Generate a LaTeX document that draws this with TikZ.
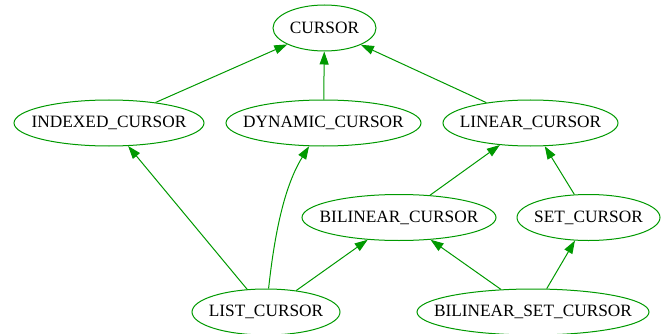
\documentclass[tikz,border=0pt]{standalone}
\usepackage{fontspec}
\setmainfont{Liberation Serif}
\usetikzlibrary{shapes.geometric,arrows.meta}
\definecolor{gvgreen}{RGB}{0,153,0}
\begin{document}
\begin{tikzpicture}[x=1pt,y=-1pt,
  cls/.style={ellipse,draw=gvgreen,line width=1pt,inner sep=0pt,minimum height=46pt,
    font=\fontsize{17.3}{20}\selectfont},
  inh/.style={draw=gvgreen,line width=1pt,-{Triangle[length=13pt,width=9pt]}}]
\useasboundingbox (0,0) rectangle (663,334);
\node[cls,minimum width=103pt] (cursor) at (324.5,28) {\makebox[0pt]{CURSOR}};
\node[cls,minimum width=190pt] (indexed) at (109,123) {\makebox[0pt]{INDEXED\_CURSOR}};
\node[cls,minimum width=195pt] (dynamic) at (323.5,123) {\makebox[0pt]{DYNAMIC\_CURSOR}};
\node[cls,minimum width=175pt] (linear) at (530.5,123) {\makebox[0pt]{LINEAR\_CURSOR}};
\node[cls,minimum width=194pt] (bilinear) at (399,217.5) {\makebox[0pt]{BILINEAR\_CURSOR}};
\node[cls,minimum width=143pt] (set) at (588.5,217.5) {\makebox[0pt]{SET\_CURSOR}};
\node[cls,minimum width=148pt] (list) at (266,312) {\makebox[0pt]{LIST\_CURSOR}};
\node[cls,minimum width=232pt] (bset) at (533,312) {\makebox[0pt]{BILINEAR\_SET\_CURSOR}};
\draw[inh] (indexed) -- (cursor);
\draw[inh] (dynamic) -- (cursor);
\draw[inh] (linear) -- (cursor);
\draw[inh] (bilinear) -- (linear);
\draw[inh] (set) -- (linear);
\draw[inh] (list) -- (indexed);
\draw[inh] (list) .. controls (275,230) and (285,185) .. (dynamic);
\draw[inh] (list) -- (bilinear);
\draw[inh] (bset) -- (bilinear);
\draw[inh] (bset) -- (set);
\end{tikzpicture}
\end{document}
